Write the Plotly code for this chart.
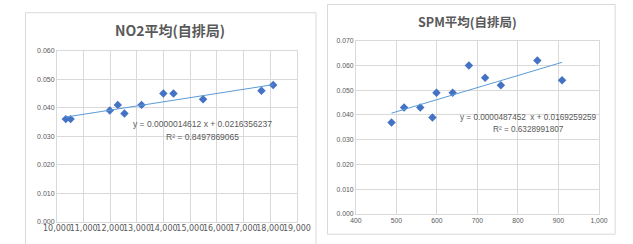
import plotly.graph_objects as go

W, H = 633, 244

# ---- data ----
no2_title = "NO2平均(自排局)"
no2_x = [10330, 10510, 11980, 12280, 12530, 13170, 13990, 14370, 15480, 17670, 18110]
no2_y = [0.036, 0.036, 0.039, 0.041, 0.038, 0.041, 0.045, 0.045, 0.043, 0.046, 0.048]
no2_slope, no2_intercept = 0.0000014612, 0.0216356237
no2_r2 = "0.8497869065"

spm_title = "SPM平均(自排局)"
spm_x = [488, 519, 559, 589, 599, 639, 679, 719, 758, 848, 909]
spm_y = [0.037, 0.043, 0.043, 0.039, 0.049, 0.049, 0.060, 0.055, 0.052, 0.062, 0.054]
spm_slope, spm_intercept = 0.0000487452, 0.0169259259
spm_r2 = "0.6328991807"


def px(x):
    return x / W


def py(y):
    return 1 - y / H


MARK = "#4472C4"
TREND = "#5B9BD5"
GRID = "#d9d9d9"
TXT = "#595959"

fig = go.Figure()

# NO2 points + trendline
fig.add_trace(go.Scatter(x=no2_x, y=no2_y, mode="markers",
                         marker=dict(symbol="diamond", size=6.5, color=MARK),
                         xaxis="x", yaxis="y", showlegend=False))
tx = [min(no2_x), max(no2_x)]
fig.add_trace(go.Scatter(x=tx, y=[no2_slope * v + no2_intercept for v in tx], mode="lines",
                         line=dict(color=TREND, width=1), xaxis="x", yaxis="y", showlegend=False))

# SPM points + trendline
fig.add_trace(go.Scatter(x=spm_x, y=spm_y, mode="markers",
                         marker=dict(symbol="diamond", size=6.5, color=MARK),
                         xaxis="x2", yaxis="y2", showlegend=False))
tx2 = [min(spm_x), max(spm_x)]
fig.add_trace(go.Scatter(x=tx2, y=[spm_slope * v + spm_intercept for v in tx2], mode="lines",
                         line=dict(color=TREND, width=1), xaxis="x2", yaxis="y2", showlegend=False))

axcommon = dict(showgrid=True, gridcolor=GRID, gridwidth=1, zeroline=False,
                showline=True, mirror=True, linecolor=GRID, linewidth=1, ticks="")

fig.update_layout(
    width=W, height=H, margin=dict(l=0, r=0, t=0, b=0),
    paper_bgcolor="white", plot_bgcolor="white",
    xaxis=dict(domain=[px(45), px(296)], range=[10000, 19000], dtick=1000, tick0=10000,
               tickformat=",d", anchor="y", tickangle=0, ticklabelstandoff=-1,
               tickfont=dict(family="DejaVu Sans", size=8, color=TXT), **axcommon),
    yaxis=dict(domain=[py(224), py(48.2)], range=[0, 0.06], dtick=0.01, tickformat=".3f",
               anchor="x", tickfont=dict(family="Liberation Sans", size=7, color=TXT), **axcommon),
    xaxis2=dict(domain=[px(357.7), px(612)], range=[400, 1000], dtick=100, tickformat=",d",
                anchor="y2", tickangle=0,
                tickfont=dict(family="Liberation Sans", size=6.8, color=TXT), **axcommon),
    yaxis2=dict(domain=[py(216.3), py(37.7)], range=[0, 0.07], dtick=0.01, tickformat=".3f",
                anchor="x2", tickfont=dict(family="Liberation Sans", size=6.8, color=TXT), **axcommon),
)

# chart frames
fig.add_shape(type="rect", xref="paper", yref="paper", x0=px(12), x1=px(316), y0=py(260), y1=py(9),
              line=dict(color=GRID, width=1), fillcolor="rgba(0,0,0,0)", layer="below")
fig.add_shape(type="rect", xref="paper", yref="paper", x0=px(328), x1=px(629), y0=py(237), y1=py(0.5),
              line=dict(color=GRID, width=1), fillcolor="rgba(0,0,0,0)", layer="below")

ann = []
ann.append(dict(text=f"<b>{no2_title}</b>", x=px(163), y=py(27), xref="paper", yref="paper", showarrow=False,
                font=dict(family="Noto Sans CJK JP", size=14, color=TXT), xanchor="center", yanchor="middle"))
ann.append(dict(text=f"<b>{spm_title}</b>", x=px(475), y=py(18), xref="paper", yref="paper", showarrow=False,
                font=dict(family="Noto Sans CJK JP", size=12.5, color=TXT), xanchor="center", yanchor="middle"))
eqfont = dict(family="Liberation Sans", size=8.5, color=TXT)
ann.append(dict(text=f"y = {no2_slope:.10f} x + {no2_intercept:.10f}", x=px(197), y=py(123.7),
                xref="paper", yref="paper", showarrow=False, font=eqfont, xanchor="center", yanchor="middle"))
ann.append(dict(text=f"R² = {no2_r2}", x=px(197), y=py(137), xref="paper", yref="paper",
                showarrow=False, font=eqfont, xanchor="center", yanchor="middle"))
ann.append(dict(text=f"y = {spm_slope:.10f}  x + {spm_intercept:.10f}", x=px(538), y=py(117.3),
                xref="paper", yref="paper", showarrow=False, font=dict(eqfont, size=8.2),
                xanchor="center", yanchor="middle"))
ann.append(dict(text=f"R² = {spm_r2}", x=px(538), y=py(129.3), xref="paper", yref="paper",
                showarrow=False, font=dict(eqfont, size=8.2), xanchor="center", yanchor="middle"))
fig.update_layout(annotations=ann)

fig.write_html("out.html", config={"displayModeBar": False},
               post_script="document.body.style.margin='0px';")
